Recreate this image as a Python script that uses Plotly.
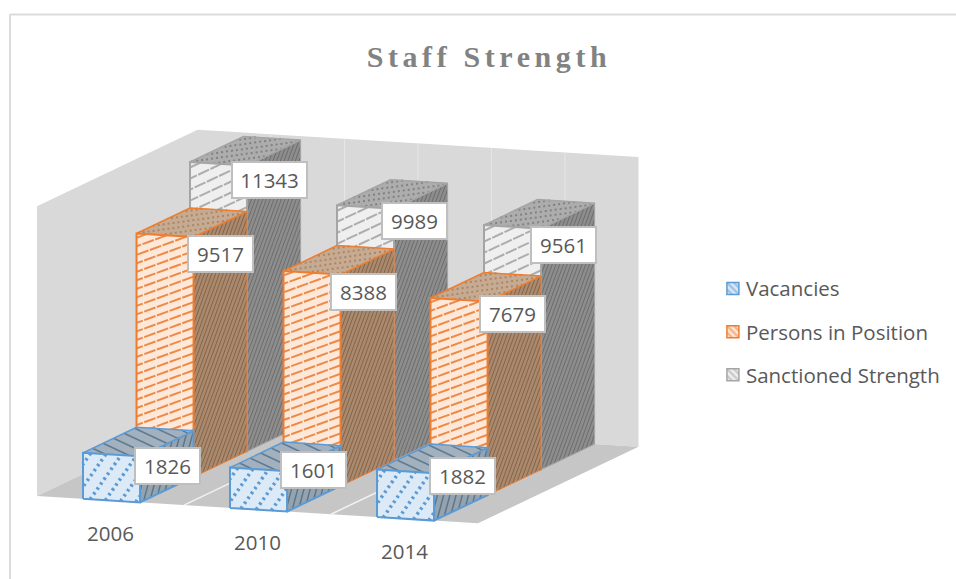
import math
import plotly.graph_objects as go

categories = ["2006", "2010", "2014"]
vacancies = [1826, 1601, 1882]
persons = [9517, 8388, 7679]
sanctioned = [11343, 9989, 9561]
series_names = ["Vacancies", "Persons in Position", "Sanctioned Strength"]

Z_MAX = 11500
X0, Y0 = 37.0, 496.0
CAT_V = (147.0, 9.1)
ROW_V = (53.5, -25.5)
Z_PX = 0.0252
BAR_C0, BAR_W = 0.313, 0.388


def pr(c, r, z):
    return (X0 + CAT_V[0] * c + ROW_V[0] * r, Y0 + CAT_V[1] * c + ROW_V[1] * r - Z_PX * z)


def hatch(poly, angle, spacing):
    """Parallel lines at a screen angle, clipped to a convex polygon."""
    a = math.radians(angle)
    d = (math.cos(a), -math.sin(a))
    n = (-d[1], d[0])
    offs = [p[0] * n[0] + p[1] * n[1] for p in poly]
    xs, ys = [], []
    t = min(offs) + spacing / 2
    while t < max(offs):
        hits = []
        for i in range(len(poly)):
            p, q = poly[i], poly[(i + 1) % len(poly)]
            fp = p[0] * n[0] + p[1] * n[1] - t
            fq = q[0] * n[0] + q[1] * n[1] - t
            if fp * fq < 0:
                s = fp / (fp - fq)
                hits.append((p[0] + s * (q[0] - p[0]), p[1] + s * (q[1] - p[1])))
        if len(hits) == 2:
            xs += [hits[0][0], hits[1][0], None]
            ys += [hits[0][1], hits[1][1], None]
        t += spacing
    return xs, ys


def add_faces(fig, polys, bg, edge, ew, hc, hw, hdash, angle, spacing):
    xs, ys, hx, hy = [], [], [], []
    for poly in polys:
        xs += [p[0] for p in poly] + [poly[0][0], None]
        ys += [p[1] for p in poly] + [poly[0][1], None]
        a, b = hatch(poly, angle, spacing)
        hx += a
        hy += b
    fig.add_trace(go.Scatter(x=xs, y=ys, mode="lines", fill="toself", fillcolor=bg,
                             line=dict(color=bg, width=0.5), hoverinfo="skip", showlegend=False))
    fig.add_trace(go.Scatter(x=hx, y=hy, mode="lines", line=dict(color=hc, width=hw, dash=hdash),
                             hoverinfo="skip", showlegend=False, connectgaps=False))
    fig.add_trace(go.Scatter(x=xs, y=ys, mode="lines", line=dict(color=edge, width=ew),
                             hoverinfo="skip", showlegend=False))


STYLES = [
    dict(edge="#5b9bd5",
         front=dict(bg="#dce9f6", hc="#5b9bd5", hw=3.5, hdash="2.5px,3.5px", angle=55, spacing=13),
         top=dict(bg="#a3b1be", hc="#5f7b94", hw=1.6, hdash="solid", angle=-25, spacing=9),
         side=dict(bg="#94a3b0", hc="#5d7387", hw=1.4, hdash="solid", angle=75, spacing=6)),
    dict(edge="#ed7d31",
         front=dict(bg="#fde8d9", hc="#ee8a47", hw=2, hdash="12px,1.5px", angle=20, spacing=8),
         top=dict(bg="#c6ab92", hc="#a88766", hw=2, hdash="2px,3px", angle=8, spacing=5),
         side=dict(bg="#a88a70", hc="#8a6242", hw=1, hdash="solid", angle=70, spacing=3.5)),
    dict(edge="#a5a5a5",
         front=dict(bg="#efefef", hc="#adadad", hw=2, hdash="12px,1.5px", angle=25, spacing=10),
         top=dict(bg="#adadad", hc="#828282", hw=2, hdash="2px,3px", angle=8, spacing=5),
         side=dict(bg="#8d8d8d", hc="#6d6d6d", hw=1, hdash="solid", angle=70, spacing=3.5)),
]

fig = go.Figure()

# walls and floor
c_n = len(categories)
r_n = len(series_names)
wall_x, wall_y = zip(*[pr(0, 0, 0), pr(0, 0, Z_MAX), pr(0, r_n, Z_MAX), pr(c_n, r_n, Z_MAX), pr(c_n, r_n, 0), pr(0, r_n, 0), pr(0, 0, 0)])
fig.add_trace(go.Scatter(x=wall_x, y=wall_y, mode="lines", fill="toself", fillcolor="#d9d9d9",
                         line=dict(width=0), hoverinfo="skip", showlegend=False))
floor_x, floor_y = zip(*[pr(0, 0, 0), pr(c_n, 0, 0), pr(c_n, r_n, 0), pr(0, r_n, 0), pr(0, 0, 0)])
fig.add_trace(go.Scatter(x=floor_x, y=floor_y, mode="lines", fill="toself", fillcolor="#c6c6c6",
                         line=dict(width=0), hoverinfo="skip", showlegend=False))

# grid: back wall every half category, floor at category boundaries
gx, gy = [], []
for k in range(1, 2 * c_n):
    a, b = pr(k / 2, r_n, 0), pr(k / 2, r_n, Z_MAX)
    gx += [a[0], b[0], None]
    gy += [a[1], b[1], None]
fig.add_trace(go.Scatter(x=gx, y=gy, mode="lines", line=dict(color="#e6e6e6", width=1),
                         hoverinfo="skip", showlegend=False))
gx, gy = [], []
for k in range(1, c_n):
    a, b = pr(k, 0, 0), pr(k, r_n, 0)
    gx += [a[0], b[0], None]
    gy += [a[1], b[1], None]
fig.add_trace(go.Scatter(x=gx, y=gy, mode="lines", line=dict(color="#f2f2f2", width=1.5),
                         hoverinfo="skip", showlegend=False))

# bars, back row first
all_series = [vacancies, persons, sanctioned]
for r in [2, 1, 0]:
    st = STYLES[r]
    sides, tops, fronts = [], [], []
    for i, v in enumerate(all_series[r]):
        c0, c1 = i + BAR_C0, i + BAR_C0 + BAR_W
        sides.append([pr(c1, r, 0), pr(c1, r + 1, 0), pr(c1, r + 1, v), pr(c1, r, v)])
        tops.append([pr(c0, r, v), pr(c1, r, v), pr(c1, r + 1, v), pr(c0, r + 1, v)])
        fronts.append([pr(c0, r, 0), pr(c1, r, 0), pr(c1, r, v), pr(c0, r, v)])
    add_faces(fig, sides, edge=st["edge"], ew=1 if r else 2, **st["side"])
    add_faces(fig, tops, edge=st["edge"], ew=1.5, **st["top"])
    add_faces(fig, fronts, edge=st["edge"], ew=2, **st["front"])

# legend entries
for name, st in zip(series_names, STYLES):
    fig.add_trace(go.Bar(x=[None], y=[None], name=name, legendgroup=name,
                         marker=dict(color=st["front"]["bg"], line=dict(color=st["edge"], width=1.5),
                                     pattern=dict(shape="\\", fgcolor=st["edge"], bgcolor=st["front"]["bg"],
                                                  size=6, solidity=0.5))))

TXT = "#595959"
FONT = "Open Sans"
annotations = []
LABEL_OFFSET = [
    [(27, 10), (26, -1), (28.5, 3)],
    [(27, 17), (22.5, 17), (24.5, 12)],
    [(22, 14), (20.5, 12), (22, 16)],
]
for r, vals in enumerate(all_series):
    for i, v in enumerate(vals):
        x, y = pr(i + BAR_C0 + BAR_W, r, v)
        annotations.append(dict(x=x + LABEL_OFFSET[r][i][0], y=y + LABEL_OFFSET[r][i][1],
                                text=str(v), showarrow=False, xref="x", yref="y",
                                font=dict(family=FONT, size=20.5, color=TXT), bgcolor="white",
                                bordercolor="#bfbfbf", borderwidth=2, borderpad=3,
                                width=57 if v < 10000 else 67, height=28))
for i, c in enumerate(categories):
    x, y = pr(i + 0.5, 0, 0)
    annotations.append(dict(x=x - 0.5, y=y + 32, text=c, showarrow=False, xref="x", yref="y",
                            font=dict(family=FONT, size=20.5, color=TXT)))

FRAME = "#dcdcdc"
fig.update_layout(
    width=956, height=579, autosize=False,
    margin=dict(l=0, r=0, t=0, b=0),
    paper_bgcolor="white", plot_bgcolor="white",
    xaxis=dict(range=[0, 956], visible=False, fixedrange=True),
    yaxis=dict(range=[579, 0], visible=False, fixedrange=True),
    title=dict(text="<b>Staff Strength</b>", x=0.5115, xanchor="center", y=0.903, yanchor="middle",
               font=dict(family="Liberation Serif", size=30, color="#828282")),
    legend=dict(x=0.7384, y=0.536, xanchor="left", yanchor="top", traceorder="grouped",
                tracegroupgap=13.5, itemwidth=30, bgcolor="rgba(0,0,0,0)",
                font=dict(family=FONT, size=20.5, color=TXT)),
    annotations=annotations,
    shapes=[
        dict(type="line", xref="x", yref="y", x0=10, x1=956, y0=14.5, y1=14.5, line=dict(color=FRAME, width=2)),
        dict(type="line", xref="x", yref="y", x0=10, x1=10, y0=14, y1=579, line=dict(color=FRAME, width=2)),
    ],
    showlegend=True,
)

POST = """
document.body.style.margin='0';
var t=document.querySelector('.gtitle');if(t){t.style.letterSpacing='4.6px';}
document.querySelectorAll('.legend .legendsymbols').forEach(function(s){s.setAttribute('transform','translate(7,0)');});
"""
fig.write_html("out.html", post_script=POST, config={"displayModeBar": False})
